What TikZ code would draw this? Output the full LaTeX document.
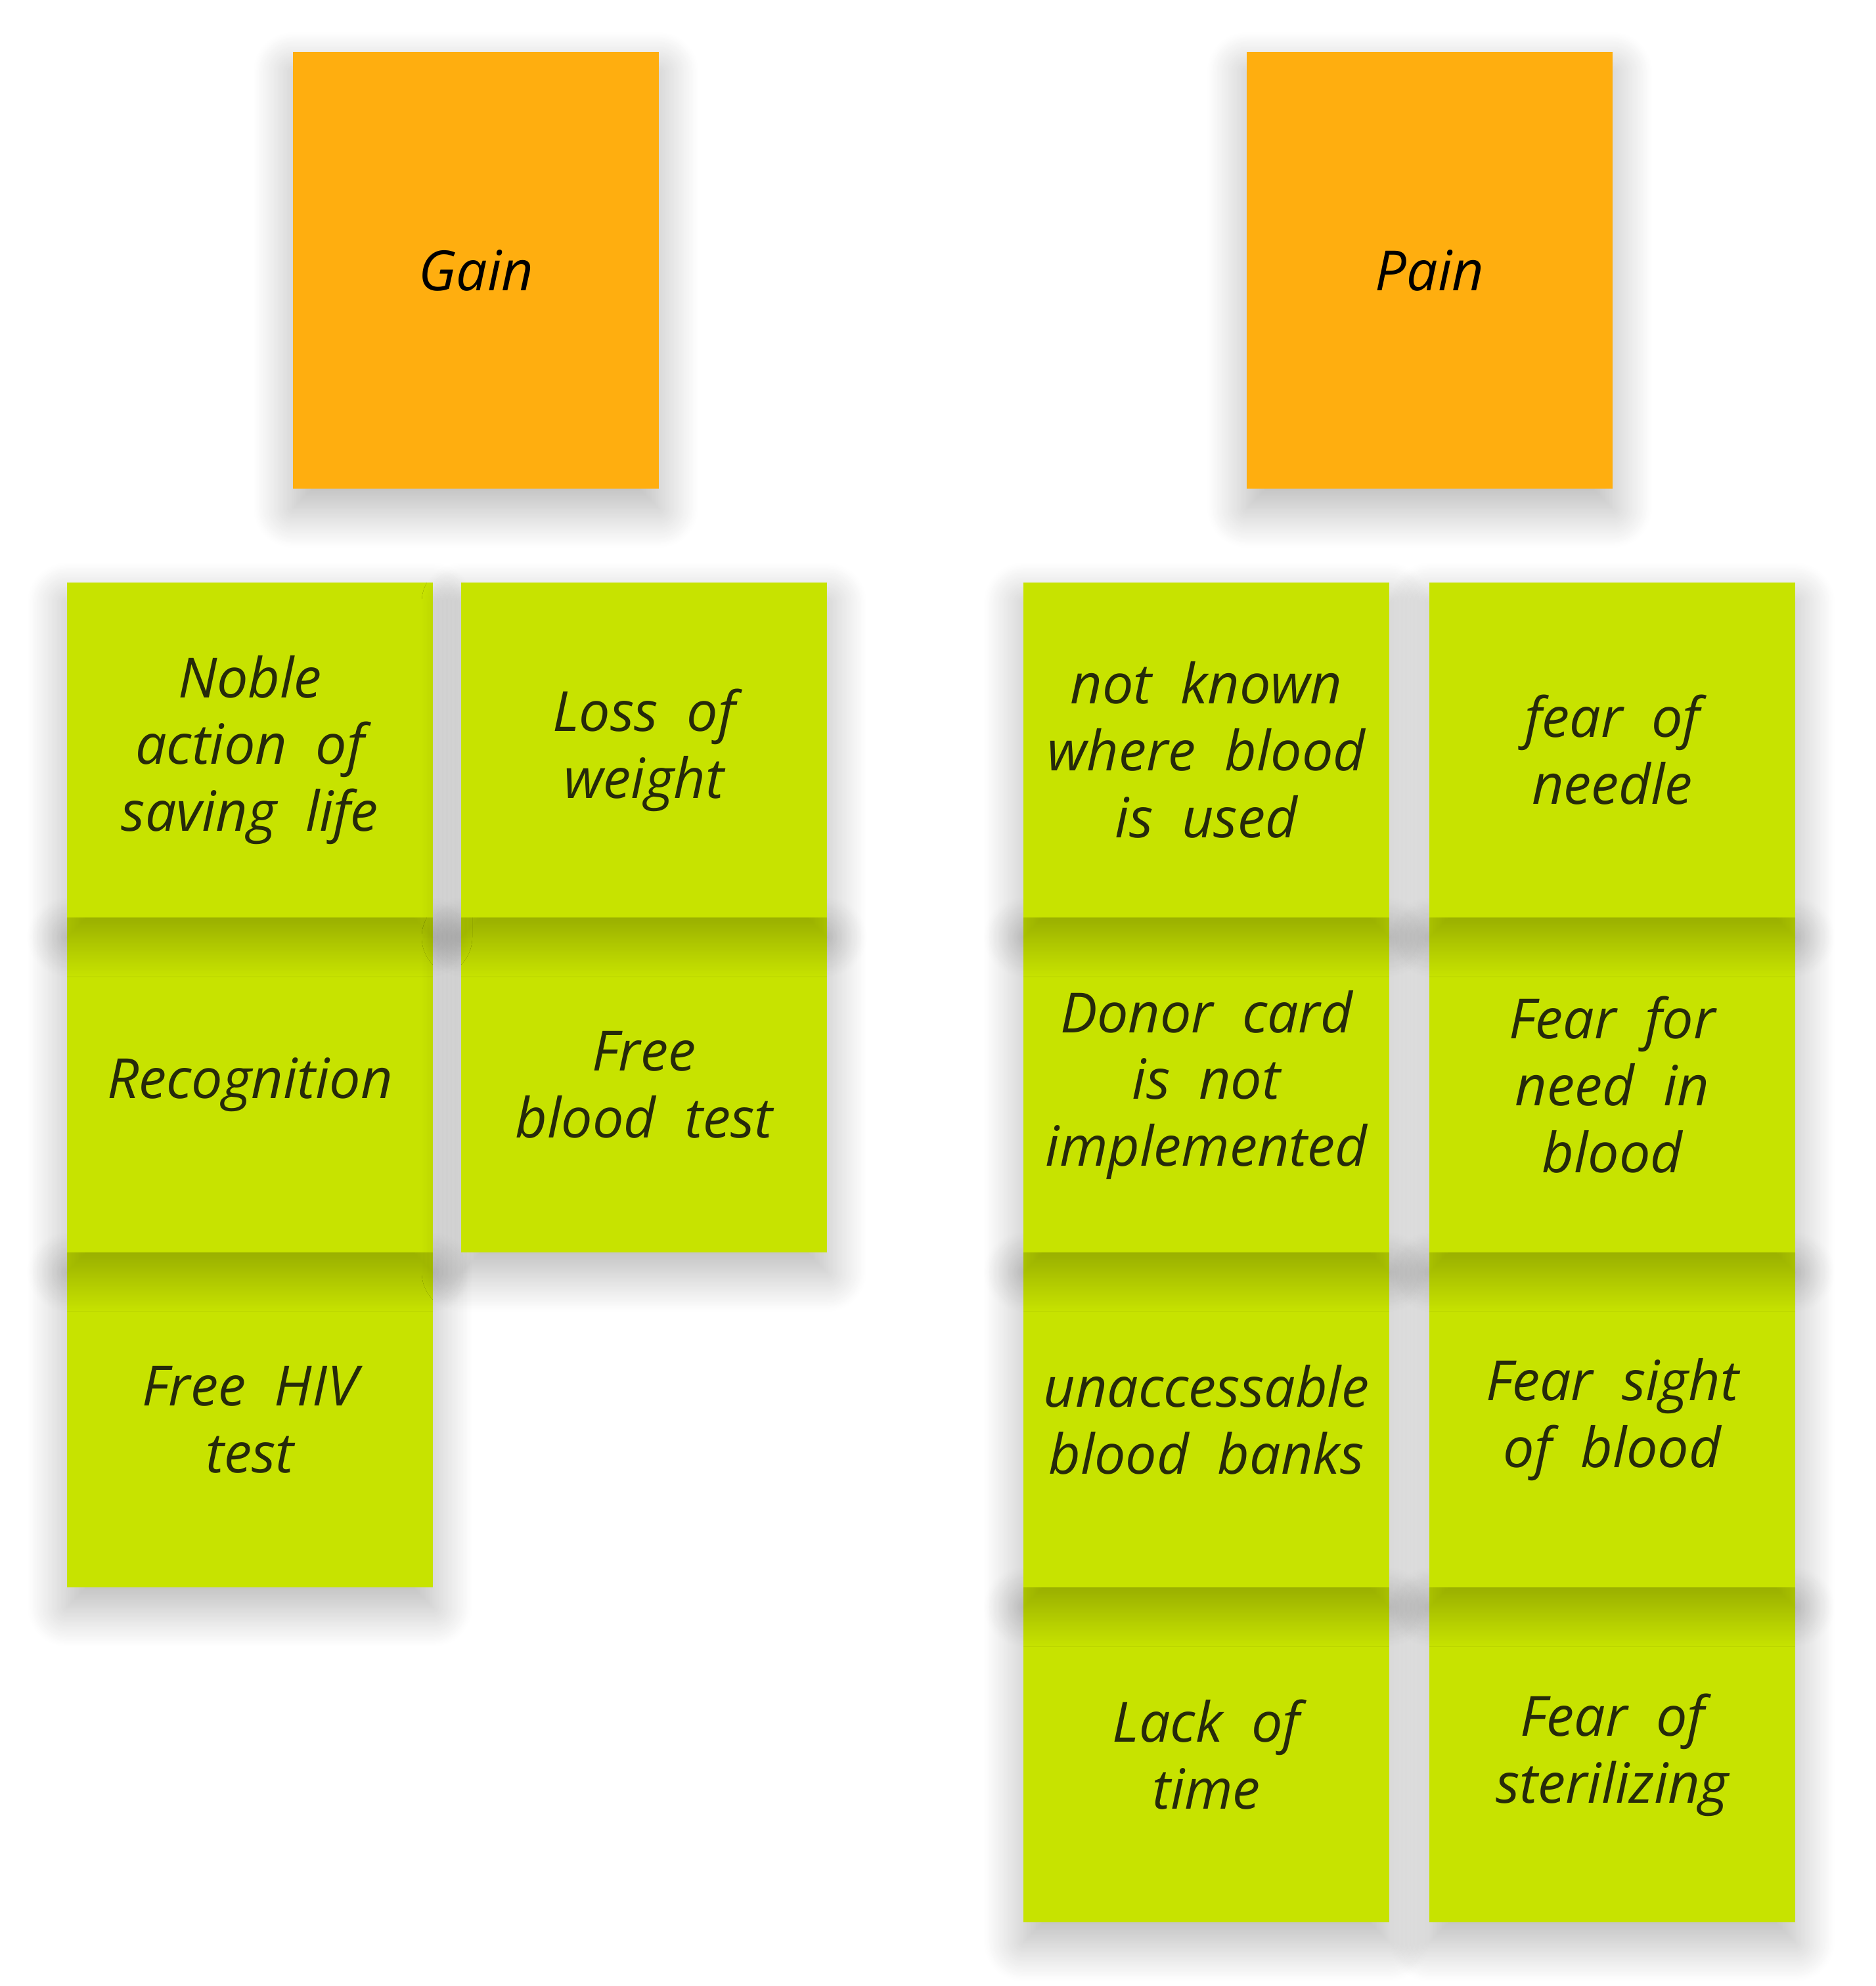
\documentclass[tikz,border=0pt]{standalone}
\usepackage{fontspec}
\setmainfont{Open Sans}[WordSpace=2]
\usetikzlibrary{positioning,shadows.blur}
\definecolor{headorange}{HTML}{FFAE0F}
\definecolor{notegreen}{HTML}{C7E300}
\definecolor{noteink}{HTML}{262A0A}

\begin{document}
\begin{tikzpicture}[outer sep=0pt, inner sep=0pt, paper shadow/.style={blur shadow={shadow xshift=0cm,shadow yshift=-0.3cm,shadow blur radius=0.6cm,shadow blur steps=30,shadow opacity=30}},
head note/.style={rectangle,fill=headorange,paper shadow,minimum width=5.57cm,minimum height=6.65cm,align=center,font=\itshape\fontsize{24}{29}\selectfont},
green note/.style={rectangle,fill=notegreen,paper shadow,minimum width=5.57cm,minimum height=5.1cm,align=center,text=noteink,font=\itshape\fontsize{24}{29}\selectfont}]%fill=white,
\useasboundingbox (0,0) rectangle (28.56,-30.24);
\begin{scope}
\node[head note] (gain) at (7.245,-4.115) {Gain};
\node[head note] (pain) at (21.765,-4.115) {Pain};
\end{scope}
% lower notes first, the upper ones lie on them
\begin{scope}
\node[green note] (lack) at (18.365,-26.72) {Lack of\\time};
\node[green note] (sterile) at (24.545,-26.72) {Fear of\\sterilizing};
\node[green note] (hiv) at (3.805,-21.62) {Free HIV\\test};
\node[green note] (banks) at (18.365,-21.62) {unaccessable\\blood banks};
\node[green note] (sight) at (24.545,-21.62) {Fear sight\\of blood};
\node[green note] (recog) at (3.805,-16.52) {Recognition};
\node[green note] (test) at (9.805,-16.52) {Free\\blood test};
\node[green note] (card) at (18.365,-16.52) {Donor card\\is not\\implemented};
\node[green note] (need) at (24.545,-16.52) {Fear for\\need in\\blood};
\node[green note] (noble) at (3.805,-11.42) {Noble\\action of\\saving life};
\node[green note] (weight) at (9.805,-11.42) {Loss of\\weight};
\node[green note] (known) at (18.365,-11.42) {not known\\where blood\\is used};
\node[green note] (needle) at (24.545,-11.42) {fear of\\needle};
\end{scope}
\end{tikzpicture}
\end{document}
